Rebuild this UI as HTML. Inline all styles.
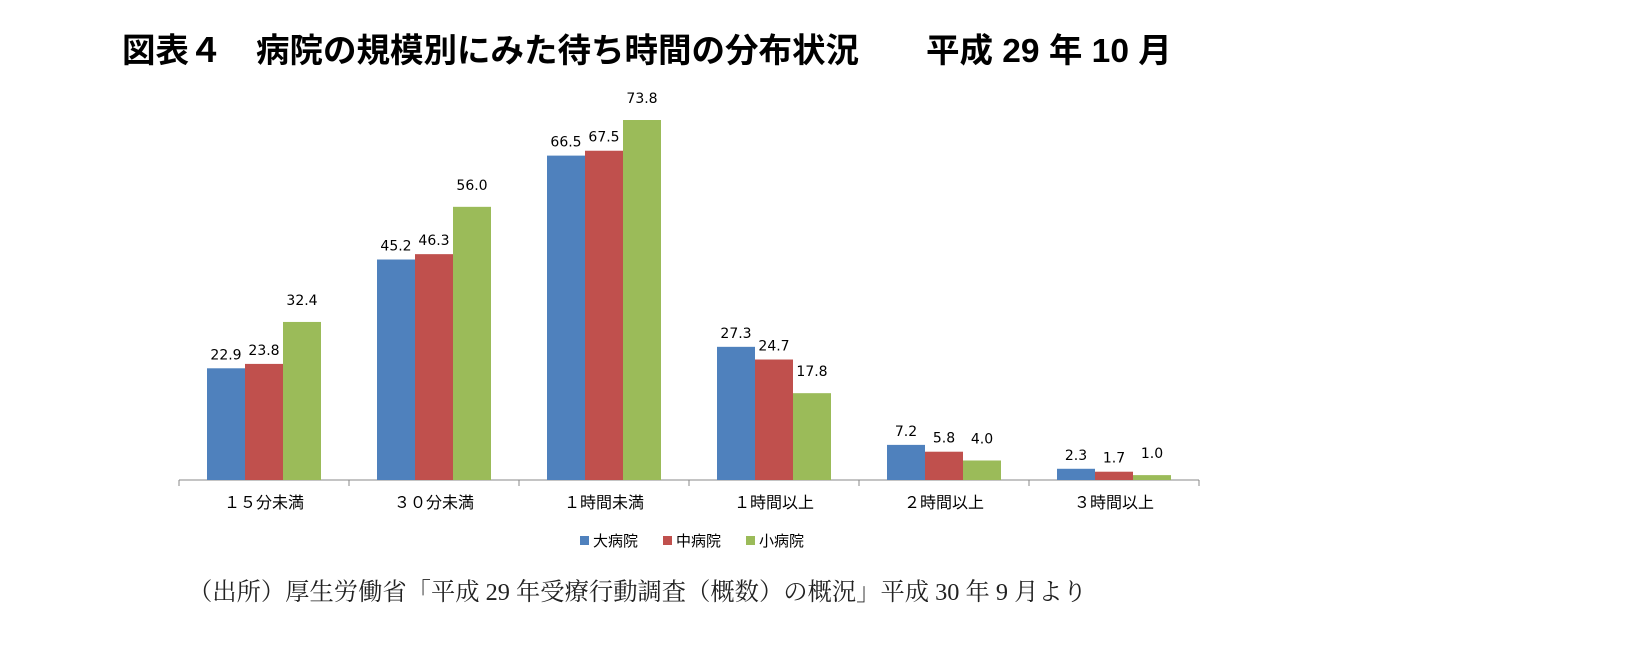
<!DOCTYPE html>
<html><head><meta charset="utf-8"><style>
body{margin:0;background:#fff;width:1652px;height:671px;overflow:hidden;}
svg{display:block}
</style></head><body>
<svg width="1652" height="671">
<text x="122" y="62" font-family="'Liberation Sans','Noto Sans CJK JP',sans-serif" font-size="33.5" font-weight="bold" fill="#000">図表４　病院の規模別にみた待ち時間の分布状況　　平成 29 年 10 月</text>
<g id="plot"></g>
<g id="legend"></g>
<text x="188" y="600" font-family="'Liberation Serif','Noto Serif CJK SC',serif" font-size="24.3" fill="#222">（出所）厚生労働省「平成 29 年受療行動調査（概数）の概況」平成 30 年 9 月より</text>
</svg>
<script>
const categories=["１５分未満","３０分未満","１時間未満","１時間以上","２時間以上","３時間以上"];
const seriesNames=["大病院","中病院","小病院"];
const large=[22.9,45.2,66.5,27.3,7.2,2.3];
const medium=[23.8,46.3,67.5,24.7,5.8,1.7];
const small=[32.4,56.0,73.8,17.8,4.0,1.0];
const colors=["#4F81BD","#C0504D","#9BBB59"];
const NS="http://www.w3.org/2000/svg";
const plot=document.getElementById('plot');
const x0=179,catW=170,baseY=480,pxPer=4.878,barW=38;
const yScale=v=>baseY-v*pxPer;
const xCat=i=>x0+i*catW;
function mk(t,a,p){const e=document.createElementNS(NS,t);for(const k in a)e.setAttribute(k,a[k]);p.appendChild(e);return e;}
const axis=mk('line',{x1:x0,y1:baseY,x2:x0+catW*categories.length,y2:baseY,stroke:'#888','stroke-width':1},plot);


for(let i=0;i<=categories.length;i++){
 const t=mk('line',{x1:xCat(i),y1:baseY,x2:xCat(i),y2:baseY+6,stroke:'#888'},plot);
 
 
}
const all=[large,medium,small];
categories.forEach((c,i)=>{
 const start=xCat(i)+(catW-3*barW)/2;
 all.forEach((s,j)=>{
  const v=s[i],y=yScale(v),bx=start+j*barW;
  const r=mk('rect',{x:bx,y:y,width:barW,height:baseY-y,fill:colors[j]},plot);
  
  
  const t=mk('text',{x:bx+barW/2,y:y-(j==2?17:9),'text-anchor':'middle','font-family':"'DejaVu Sans','Liberation Sans',sans-serif",'font-size':14,fill:'#000'},plot);
  t.textContent=v.toFixed(1);
  
  
 });
 const l=mk('text',{x:xCat(i)+catW/2,y:508,'text-anchor':'middle','font-family':"'Liberation Sans','Noto Sans CJK JP',sans-serif",'font-size':16,fill:'#000'},plot);
 l.textContent=c;
 
 
});
const lg=document.getElementById('legend');
const lx=[580,663,746];
seriesNames.forEach((n,j)=>{
 const r=mk('rect',{x:lx[j],y:536,width:9,height:9,fill:colors[j]},lg);
 
 
 const t=mk('text',{x:lx[j]+13,y:546,'font-family':"'Liberation Sans','Noto Sans CJK JP',sans-serif",'font-size':15,fill:'#000'},lg);
 t.textContent=n;
 
 
});
</script>
</body></html>
